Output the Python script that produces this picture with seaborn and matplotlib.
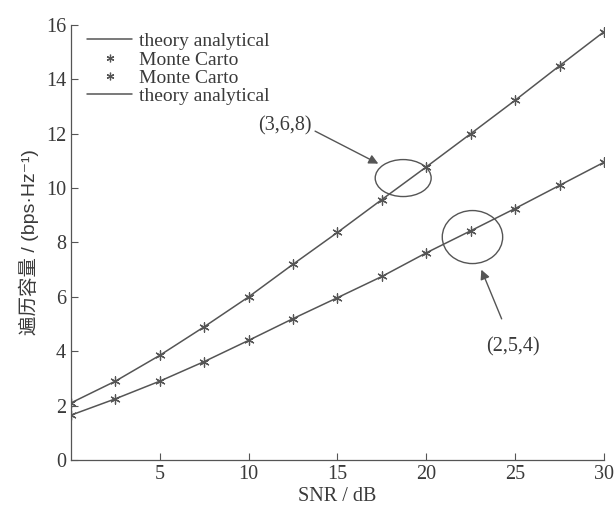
import numpy as np
import pandas as pd
import matplotlib
matplotlib.use("Agg")
import matplotlib.pyplot as plt
from matplotlib.lines import Line2D
from matplotlib.patches import Ellipse
import seaborn as sns

# SNR points (dB)
snr = [0, 2.5, 5, 7.5, 10, 12.5, 15, 17.5, 20, 22.5, 25, 27.5, 30]
# capacity
cap_368 = [2.1, 2.9, 3.85, 4.9, 6.0, 7.2, 8.37, 9.58, 10.78, 12.0, 13.23, 14.5, 15.75]
cap_254 = [1.65, 2.25, 2.9, 3.62, 4.4, 5.2, 5.97, 6.75, 7.62, 8.43, 9.25, 10.1, 10.95]
config_labels = ["(3,6,8)", "(2,5,4)"]
legend_labels = ["theory analytical", "Monte Carto", "Monte Carto", "theory analytical"]
xticks = [5, 10, 15, 20, 25, 30]
yticks = [0, 2, 4, 6, 8, 10, 12, 14, 16]

df = pd.DataFrame({
    "snr": snr * 2,
    "cap": cap_368 + cap_254,
    "cfg": [config_labels[0]] * len(snr) + [config_labels[1]] * len(snr),
})

sns.set_style("ticks")
plt.rcParams["font.family"] = ["Liberation Serif", "DejaVu Serif"]

gray = "#555555"
txt = "#3a3a3a"
star = (6, 2, 0)

fig = plt.figure(figsize=(6.14, 5.07), dpi=100)
ax = fig.add_axes([0.1156, 0.0927, 0.868, 0.858])

sns.lineplot(data=df, x="snr", y="cap", units="cfg", estimator=None,
             color=gray, lw=1.1, ax=ax, legend=False)
sns.scatterplot(data=df, x="snr", y="cap", color=gray, marker=star,
                s=45, linewidth=0.9, edgecolor=gray, ax=ax, legend=False, zorder=3)

ax.set_xlim(0, 30)
ax.set_ylim(0, 16)
ax.set_xticks(xticks)
ax.set_yticks(yticks)
ax.tick_params(direction="in", length=5, width=0.8, colors=gray,
               labelcolor=txt, labelsize=14.5)
for side in ["top", "right"]:
    ax.spines[side].set_visible(False)
for side in ["left", "bottom"]:
    ax.spines[side].set_color(gray)
    ax.spines[side].set_linewidth(0.9)

ax.set_xlabel("SNR / dB", fontsize=14.5, color=txt, labelpad=2)
ax.set_ylabel("遍历容量 / (bps·Hz⁻¹)", fontsize=14, color=txt,
              family=["Liberation Sans", "Noto Sans CJK SC", "DejaVu Sans"], labelpad=5)

handles = [
    Line2D([], [], color=gray, lw=1.1),
    Line2D([], [], color=gray, lw=0, marker=star, markersize=5.5, markeredgewidth=0.9),
    Line2D([], [], color=gray, lw=0, marker=star, markersize=5.5, markeredgewidth=0.9),
    Line2D([], [], color=gray, lw=1.1),
]
leg = ax.legend(handles, legend_labels, loc="upper left", bbox_to_anchor=(0.005, 1.014),
                frameon=False, fontsize=14, handlelength=2.3, handletextpad=0.35,
                labelspacing=0.04, borderaxespad=0.3)
for t in leg.get_texts():
    t.set_color(txt)

# ellipses around the curves
ax.add_patch(Ellipse((18.7, 10.37), 3.15, 1.36, fill=False, ec=gray, lw=1.0))
ax.add_patch(Ellipse((22.6, 8.2), 3.4, 1.95, fill=False, ec=gray, lw=1.0))

ax.annotate(config_labels[0], xy=(17.3, 10.9), xytext=(12.05, 12.3),
            fontsize=14.5, color=txt, ha="center", va="center",
            arrowprops=dict(arrowstyle="-|>", color=gray, lw=1.0, relpos=(1.0, 0.3),
                            shrinkA=0, shrinkB=0, mutation_scale=14))
ax.annotate(config_labels[1], xy=(23.1, 7.0), xytext=(24.9, 4.15),
            fontsize=14.5, color=txt, ha="center", va="center",
            arrowprops=dict(arrowstyle="-|>", color=gray, lw=1.0,
                            shrinkA=12, shrinkB=0, mutation_scale=14))

fig.savefig("out.png", dpi=100)
